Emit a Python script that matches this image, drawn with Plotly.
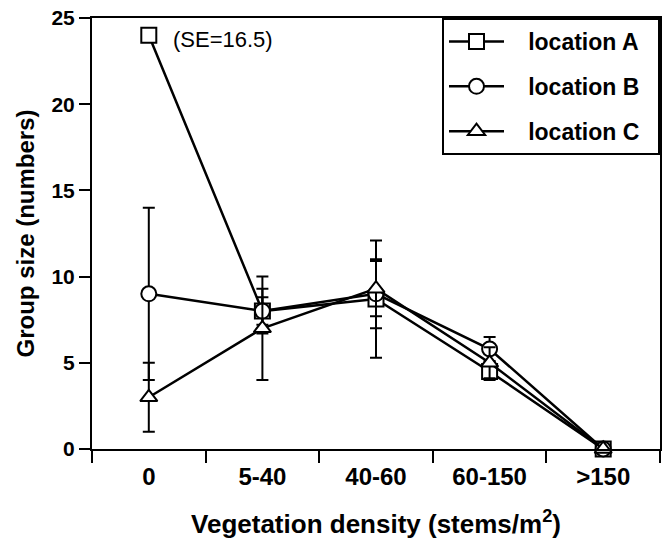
import plotly.graph_objects as go

# Vegetation density classes (x categories)
density = ["0", "5-40", "40-60", "60-150", ">150"]

# Mean group size per location
loc_a = [24.0, 8.0, 8.7, 4.5, 0.0]
loc_b = [9.0, 8.0, 9.0, 5.8, 0.0]
loc_c = [3.0, 7.0, 9.3, 5.0, 0.0]

# Standard errors (location A at density 0 is written as text instead)
se_a = [float("nan"), 1.3, 3.4, 0.5, 0.0]
se_b = [5.0, 0.8, 2.0, 0.7, 0.0]
se_c = [2.0, 3.0, 1.6, 0.9, 0.0]
se_note = "(SE=16.5)"

FONT = "Liberation Sans, Arial, Helvetica, sans-serif"
LPAD = "\u00a0\u00a0\u00a0"  # gap between legend symbol and label
RPAD = "\u00a0\u00a0"        # right padding inside the legend box

series = [
    ("location A", loc_a, se_a, "square"),
    ("location B", loc_b, se_b, "circle"),
    ("location C", loc_c, se_c, "triangle-up"),
]

fig = go.Figure()
for name, vals, errs, sym in series:
    fig.add_trace(go.Scatter(
        x=density, y=vals, name=LPAD + name + RPAD, legendgroup=name,
        mode="lines+markers",
        line=dict(color="black", width=2.5),
        marker=dict(symbol=sym, size=15, color="white",
                    line=dict(color="black", width=2)),
        error_y=dict(type="data", array=errs, visible=True,
                     color="black", thickness=2, width=6),
        cliponaxis=False,
    ))

fig.add_annotation(
    x=density[0], y=loc_a[0], text=se_note, showarrow=False,
    xanchor="left", yanchor="middle", xshift=22, yshift=-4,
    font=dict(family=FONT, size=22, color="black"),
)

fig.update_layout(
    width=665, height=548,
    margin=dict(l=92, r=3, t=18, b=99),
    paper_bgcolor="white", plot_bgcolor="white",
    showlegend=True,
    legend=dict(
        x=1, y=1, xanchor="right", yanchor="top",
        bgcolor="white", bordercolor="black", borderwidth=2,
        font=dict(family=FONT, size=23, color="black", weight="bold"),
        tracegroupgap=12, itemwidth=55,
    ),
    xaxis=dict(
        type="category", range=[-0.5, 4.5], tickson="boundaries",
        ticks="outside", ticklen=12, tickwidth=2, tickcolor="black",
        ticklabelstandoff=5,
        showline=True, linecolor="black", linewidth=2, mirror=True,
        showgrid=False, zeroline=False,
        tickfont=dict(family=FONT, size=24, color="black", weight="bold"),
        title=dict(text="Vegetation density (stems/m<sup>2</sup>)", standoff=26,
                   font=dict(family=FONT, size=26, color="black", weight="bold")),
    ),
    yaxis=dict(
        range=[0, 25], dtick=5,
        ticks="outside", ticklen=11, tickwidth=2, tickcolor="black",
        showline=True, linecolor="black", linewidth=2, mirror=True,
        showgrid=False, zeroline=False,
        tickfont=dict(family=FONT, size=21, color="black", weight="bold"),
        title=dict(text="Group size (numbers)", standoff=10,
                   font=dict(family=FONT, size=24, color="black", weight="bold")),
    ),
)

fig.write_html("out.html")
